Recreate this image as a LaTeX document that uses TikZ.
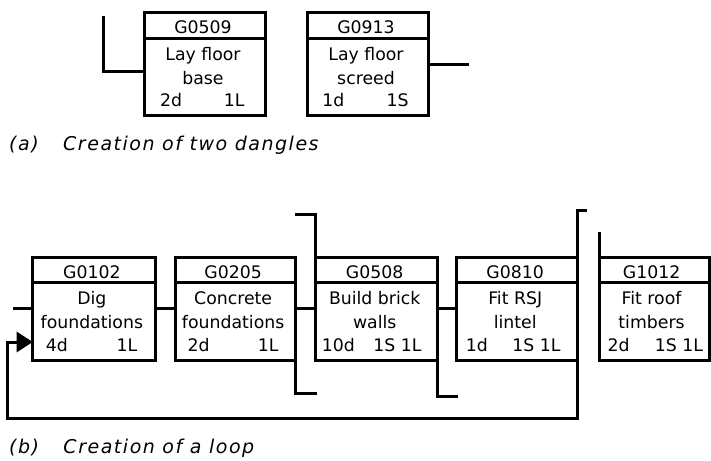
\documentclass[tikz,border=0pt]{standalone}
\usepackage{fontspec}
\setmainfont{DejaVu Sans}
\newfontfamily\capfont{DejaVu Sans}[LetterSpace=8]
\usetikzlibrary{arrows.meta}
\tikzset{
  wire/.style={line width=3bp, line join=miter},
  box/.style={draw, line width=3bp, rectangle, outer sep=0pt, inner sep=0pt, minimum height=103bp, anchor=north west},
  txt/.style={inner sep=0pt, font=\fontsize{17.3bp}{20bp}\selectfont},
  captxt/.style={inner sep=0pt, font=\fontsize{19bp}{22bp}\selectfont\capfont\itshape, anchor=base west},
}
\newcommand\taskbox[8]{%
  \node[box, minimum width=#4bp] (#1) at (#2,#3) {};
  \draw[wire] ([yshift=-25.5bp]#1.north west) -- ([yshift=-25.5bp]#1.north east);
  \node[txt, anchor=base] (#1c) at ([xshift=#8bp, yshift=-21bp]#1.north) {#5};
  \node[txt, anchor=base] (#1a) at ([xshift=#8bp, yshift=-47.5bp]#1.north) {#6};
  \node[txt, anchor=base] (#1b) at ([xshift=#8bp, yshift=-71.5bp]#1.north) {#7};
}
\newcommand\taskfoot[5]{%
  \node[txt, anchor=base west] (#1l) at ([xshift=#2bp, yshift=9bp]#1.south west) {#3};
  \node[txt, anchor=base east] (#1r) at ([xshift=-#4bp, yshift=9bp]#1.south east) {#5};
}
\begin{document}
\begin{tikzpicture}[x=1bp, y=-1bp]
\useasboundingbox (0,0) rectangle (711,461);

% (a)
\taskbox{g0509}{144.3}{12.7}{121.4}{G0509}{Lay floor}{base}{-2}
\taskfoot{g0509}{15.5}{2d}{21}{1L}
\taskbox{g0913}{307.7}{12.7}{120.6}{G0913}{Lay floor}{screed}{-2}
\taskfoot{g0913}{14.5}{1d}{19.5}{1S}

\coordinate (da1) at (103.3,16);
\coordinate (da2) at (469,65);
\draw[wire] (da1) |- ([yshift=-7.5bp]g0509.west);
\draw[wire] (g0913.east |- da2) -- (da2);

\node[captxt] (capa1) at (9,150.7) {(a)};
\node[captxt] (capa2) at (63,150.7) {Creation of two dangles};

% (b)
\taskbox{g0102}{32.7}{257.3}{122.3}{G0102}{Dig}{foundations}{-2}
\taskfoot{g0102}{13}{4d}{17.5}{1L}
\taskbox{g0205}{175}{257.3}{120.3}{G0205}{Concrete}{foundations}{-2}
\taskfoot{g0205}{12.5}{2d}{16.5}{1L}
\taskbox{g0508}{315.7}{257.3}{122}{G0508}{Build brick}{walls}{-2}
\taskfoot{g0508}{6}{10d}{16}{1S 1L}
\taskbox{g0810}{456.7}{257.3}{121}{G0810}{Fit RSJ}{lintel}{-2}
\taskfoot{g0810}{9}{1d}{17}{1S 1L}
\taskbox{g1012}{599.3}{257.3}{110.5}{G1012}{Fit roof}{timbers}{-3}
\taskfoot{g1012}{8}{2d}{6.5}{1S 1L}

\draw[wire] (g0102.east) -- (g0205.west);
\draw[wire] (g0205.east) -- (g0508.west);
\draw[wire] (g0508.east) -- (g0810.west);

\coordinate (inl) at (13.3,308.3);
\draw[wire] (inl) -- (inl -| g0102.west);

\coordinate (s1) at (316.7,393.3);
\coordinate (s2) at (295,215);
\coordinate (s3) at (458.3,396.7);
\coordinate (s4) at (586.7,210.5);
\coordinate (s5) at (599.3,231.7);
\draw[wire] (g0205.south east) |- (s1);
\draw[wire] (g0508.north west) |- (s2);
\draw[wire] (g0508.south east) |- (s3);
\draw[wire] (g0810.north east) |- (s4);
\draw[wire] (g1012.north west) -- (s5);

\coordinate (loopl) at (7.3,418.3);
\draw[wire, -{Triangle[length=16bp, width=20bp]}] (g0810.south east) |- (loopl) |- ([yshift=-33.2bp]g0102.west);

\node[captxt] (capb1) at (9,453) {(b)};
\node[captxt] (capb2) at (63.3,453) {Creation of a loop};
\end{tikzpicture}
\end{document}
